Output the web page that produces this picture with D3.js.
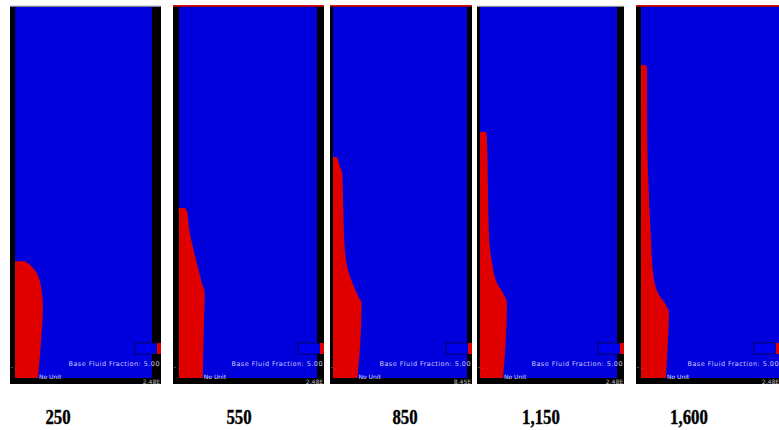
<!DOCTYPE html>
<html>
<head>
<meta charset="utf-8">
<script src="https://cdn.jsdelivr.net/npm/d3@7"></script>
<style>
  body { margin: 0; background: #fff; }
  svg { display: block; }
</style>
</head>
<body>
<svg width="779" height="430"></svg>
<script>
// time labels under each frame
const times = ["250", "550", "850", "1,150", "1,600"];

// red front profiles: [height fraction from bottom, width fraction of domain]
const profile250 = [[0, 0.168], [0.10, 0.19], [0.19, 0.204], [0.26, 0.182], [0.29, 0.146], [0.307, 0.102], [0.315, 0.073]];
const profile550 = [[0, 0.174], [0.13, 0.181], [0.229, 0.188], [0.256, 0.167], [0.31, 0.13], [0.353, 0.101], [0.407, 0.072], [0.445, 0.062], [0.458, 0.045]];
const profile850 = [[0, 0.179], [0.10, 0.2], [0.202, 0.209], [0.218, 0.187], [0.256, 0.142], [0.299, 0.104], [0.372, 0.082], [0.461, 0.075], [0.553, 0.067], [0.569, 0.052], [0.596, 0.03]];
const profile1150 = [[0, 0.168], [0.11, 0.19], [0.202, 0.197], [0.229, 0.168], [0.256, 0.124], [0.31, 0.088], [0.38, 0.066], [0.515, 0.058], [0.642, 0.051], [0.663, 0.045]];
const profile1600 = [[0, 0.182], [0.102, 0.197], [0.175, 0.204], [0.191, 0.19], [0.229, 0.124], [0.283, 0.088], [0.372, 0.073], [0.553, 0.051], [0.73, 0.044], [0.835, 0.044], [0.844, 0.035]];
const profiles = [profile250, profile550, profile850, profile1150, profile1600];

// frame layout (pixels)
const frames = [
  {outL: 10,  blueL: 15,  blueR: 152, outR: 161, top: 5, topLine: "#d8d8e8", labelX: 58},
  {outL: 173, blueL: 179, blueR: 317, outR: 324, top: 5, topLine: "#e21010", labelX: 239},
  {outL: 330, blueL: 333, blueR: 467, outR: 472, top: 5, topLine: "#e21010", labelX: 405},
  {outL: 477, blueL: 480, blueR: 617, outR: 624, top: 5, topLine: "#e8e8f4", labelX: 541},
  {outL: 636, blueL: 641, blueR: 780, outR: 780, top: 5, topLine: "#e21010", labelX: 689}
];

const blueTop = 7, blueBottom = 378, frameBottom = 384;
const svg = d3.select("svg");

frames.forEach((f, i) => {
  const g = svg.append("g");
  const x = d3.scaleLinear().domain([0, 1]).range([f.blueL, f.blueL + 137]);
  const y = d3.scaleLinear().domain([0, 1]).range([blueBottom, blueTop]);

  g.append("rect")
    .attr("x", f.outL).attr("y", f.top)
    .attr("width", f.outR - f.outL).attr("height", frameBottom - f.top)
    .attr("fill", "#000");

  g.append("rect")
    .attr("x", f.blueL).attr("y", blueTop)
    .attr("width", f.blueR - f.blueL).attr("height", blueBottom - blueTop)
    .attr("fill", "#0000dc");

  g.append("rect")
    .attr("x", f.outL).attr("y", f.top)
    .attr("width", f.outR - f.outL).attr("height", 1.6)
    .attr("fill", f.topLine);

  const area = d3.area()
    .y(d => y(d[0]))
    .x0(x(0))
    .x1(d => x(d[1]))
    .curve(d3.curveMonotoneY);

  g.append("path")
    .attr("d", area(profiles[i]))
    .attr("fill", "#e00000");

  // legend box
  g.append("rect")
    .attr("x", f.outR - 26).attr("y", 343)
    .attr("width", 22).attr("height", 11)
    .attr("fill", "#0000f0").attr("stroke", "#000").attr("stroke-width", 0.6);
  g.append("rect")
    .attr("x", f.outR - 4).attr("y", 343)
    .attr("width", 4).attr("height", 11)
    .attr("fill", "#e00000");

  g.append("text")
    .attr("x", f.outR - 1).attr("y", 366)
    .attr("text-anchor", "end")
    .attr("font-family", "DejaVu Sans, sans-serif")
    .attr("font-size", 6.5)
    .attr("letter-spacing", 0.45)
    .attr("fill", "#c8c8ff")
    .text("Base Fluid Fraction:  5.00");

  g.append("text")
    .attr("x", x(profiles[i][0][1]) + 1).attr("y", 379)
    .attr("font-family", "DejaVu Sans, sans-serif")
    .attr("font-size", 6)
    .attr("fill", "#d8d8ff")
    .text("No Unit");

  g.append("text")
    .attr("x", f.outR - 1).attr("y", 384)
    .attr("text-anchor", "end")
    .attr("font-family", "DejaVu Sans, sans-serif")
    .attr("font-size", 6)
    .attr("fill", "#bbbbbb")
    .text(i === 2 ? "8.45E" : "2.48E");

  g.append("text")
    .attr("x", f.outL + 1).attr("y", 369)
    .attr("font-family", "DejaVu Sans, sans-serif")
    .attr("font-size", 6)
    .attr("fill", "#aaaaaa")
    .text("- .");

  svg.append("text")
    .attr("transform", `translate(${f.labelX},424) scale(0.8,1)`)
    .attr("text-anchor", "middle")
    .attr("font-family", "Liberation Serif, serif")
    .attr("font-weight", "bold")
    .attr("font-size", 21)
    .attr("fill", "#000")
    .attr("stroke", "#000")
    .attr("stroke-width", 0.4)
    .text(times[i]);
});
</script>
</body>
</html>
